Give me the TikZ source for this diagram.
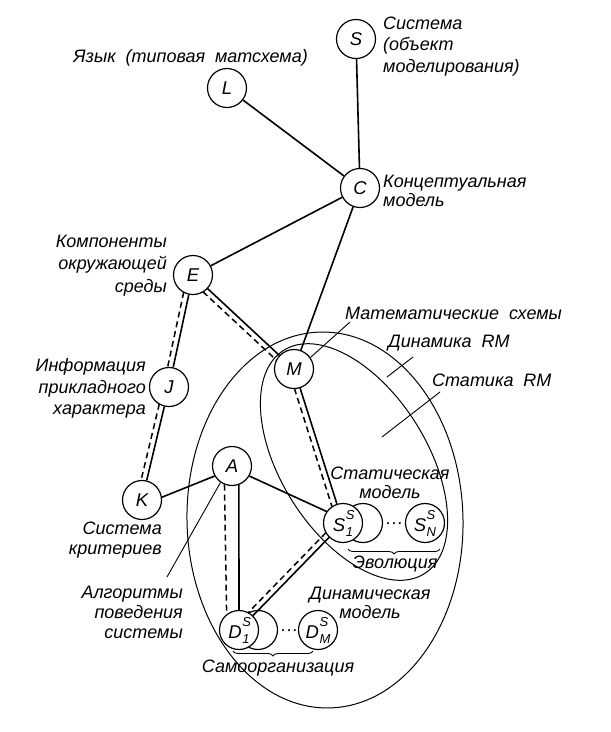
\documentclass[tikz,border=0pt]{standalone}
\usepackage{fontspec}
\setmainfont{Liberation Sans}
\usetikzlibrary{calc,decorations.pathreplacing}
\newcommand\wsp{\hspace{0.55em}}
\newcommand\dblline[2]{%
  \draw[conn] (#1) -- (#2);
  \draw[dconn,shorten <=18.6pt,shorten >=18.6pt] ($(#1)!5.5pt!-90:(#2)$) -- ($(#2)!5.5pt!90:(#1)$);}
\newcommand\subsup[3]{#1\kern0.5pt\rlap{\raisebox{12pt}{\fontsize{13}{13}\selectfont #2}}\raisebox{-5pt}{\fontsize{13}{13}\selectfont #3}}
\begin{document}
\begin{tikzpicture}[x=1pt,y=-1pt,
  txt/.style={font=\fontsize{18}{21}\selectfont\itshape, inner sep=0pt},
  vtx/.style={circle,draw,line width=1.2pt,fill=white,minimum size=39pt,inner sep=0pt,font=\fontsize{18.5}{21}\selectfont\itshape},
  conn/.style={line width=1.6pt},
  dconn/.style={line width=1.5pt,dash pattern=on 6pt off 4pt},
  ptr/.style={line width=0.9pt},
  ell/.style={line width=1pt},
  brc/.style={line width=0.9pt,decorate,decoration={brace,amplitude=5pt}}]
\useasboundingbox (0,0) rectangle (611,732);
% regions
\draw[ell, rotate around={1.5:(325,520)}] (325,520) ellipse [x radius=138, y radius=188];
\draw[ell, rotate around={-57.8:(354,462)}] (354,462) ellipse [x radius=132, y radius=73];
% vertices
\node[vtx] (S) at (356,39) {S};
\node[vtx] (L) at (227,88) {L};
\node[vtx] (C) at (360,188) {C};
\node[vtx] (E) at (193,275) {E};
\node[vtx] (J) at (169,387) {J};
\node[vtx] (M) at (294,369) {M};
\node[vtx] (K) at (142,500) {K};
\node[vtx] (A) at (232,466) {A};
\node[vtx] (S2) at (363,523) {};
\node[vtx] (S1) at (343,523) {\subsup{S}{S}{1}};
\node[vtx] (SN) at (425,523) {\subsup{S}{S}{N}};
\node[vtx] (D2) at (258,630) {};
\node[vtx] (D1) at (239,630) {\subsup{D}{S}{1}};
\node[vtx] (DM) at (318,630) {\subsup{D}{S}{M}};
\node[txt] (sdots) at (394,526) {···};
\node[txt] (ddots) at (289,633) {···};
% connectors
\draw[conn] (S) -- (C);
\draw[conn] (L) -- (C);
\draw[conn] (C) -- (E);
\draw[conn] (C) -- (M);
\dblline{E}{J}
\dblline{J}{K}
\dblline{E}{M}
\dblline{M}{S1}
\dblline{S1}{D1}
\draw[conn] (A.-70) -- (D1.north);
\draw[dconn] (A.-112) -- (D1.128);
\draw[conn] (K.8) -- (A.-150);
\draw[conn] (A.-30) -- (S1.145);
% pointers
\coordinate (algp) at (167,577);
\coordinate (matp) at (350,322);
\draw[ptr] (A.-125) -- (algp);
\draw[ptr] (M.35) -- (matp);
\coordinate (dyn1) at (387,377);
\coordinate (dyn2) at (413,357);
\coordinate (st1) at (382,437);
\coordinate (st2) at (440,392);
\draw[ptr] (dyn1) -- (dyn2);
\draw[ptr] (st1) -- (st2);
% braces
\coordinate (ev1) at (440,549);
\coordinate (ev2) at (348,549);
\coordinate (so1) at (313,651);
\coordinate (so2) at (233,651);
\draw[brc] (ev1) -- (ev2);
\draw[brc] (so1) -- (so2);
% labels
\node[txt,anchor=east] (tL) at (308,58) {Язык\wsp(типовая\wsp матсхема)};
\node[txt,anchor=west,align=left,font=\fontsize{18}{21.5}\selectfont\itshape] (tS) at (383,46.5) {Система\\(объект\\моделирования)};
\node[txt,anchor=west,align=left,font=\fontsize{18}{18.5}\selectfont\itshape] (tC) at (383,191) {Концептуальная\\модель};
\node[txt,anchor=east,align=right,font=\fontsize{18}{22.5}\selectfont\itshape] (tE) at (167,265.5) {Компоненты\\окружающей\\среды};
\node[txt,anchor=east,align=right,font=\fontsize{18}{21.5}\selectfont\itshape] (tJ) at (146,388.5) {Информация\\прикладного\\характера};
\node[txt,anchor=east,align=right,font=\fontsize{18}{20}\selectfont\itshape] (tK) at (162,540) {Система\\критериев};
\node[txt,anchor=east,align=right,font=\fontsize{18}{20}\selectfont\itshape] (tA) at (183,612) {Алгоритмы\\поведения\\системы};
\node[txt,anchor=west] (tM) at (345,313) {Математические\wsp схемы};
\node[txt,anchor=west] (tDyn) at (388,343) {Динамика\wsp RM};
\node[txt,anchor=west] (tSt) at (432,380) {Статика\wsp RM};
\node[txt,align=center,font=\fontsize{18}{19}\selectfont\itshape] (tSm) at (390,482.5) {Статическая\\модель};
\node[txt] (tEv) at (395,564) {Эволюция};
\node[txt,align=center,font=\fontsize{18}{19}\selectfont\itshape] (tDm) at (370,602.5) {Динамическая\\модель};
\node[txt] (tSo) at (278,668) {Самоорганизация};
\end{tikzpicture}
\end{document}
